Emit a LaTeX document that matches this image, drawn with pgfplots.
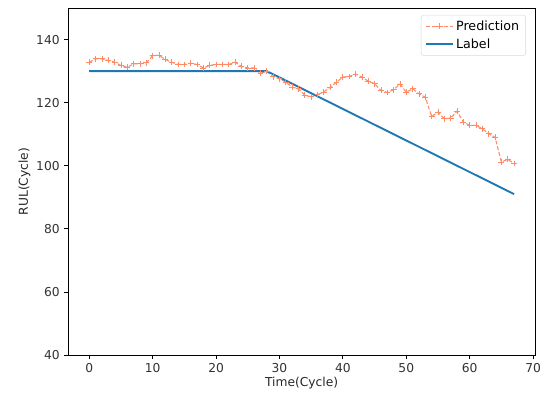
\documentclass[border=0pt]{standalone}
\usepackage{fontspec}
\setmainfont{DejaVu Sans}
\usepackage{pgfplots}
\pgfplotsset{compat=1.18}

\definecolor{predcol}{HTML}{FF8A65}
\definecolor{labelcol}{HTML}{1F77B4}

\pgfplotstableread{
t v
0 132.8
1 133.9
2 133.9
3 133.4
4 132.8
5 131.8
6 131.2
7 132.3
8 132.3
9 132.6
10 134.9
11 135.0
12 133.7
13 132.8
14 132.1
15 132.1
16 132.5
17 132.1
18 131.0
19 131.8
20 132.1
21 132.1
22 132.1
23 132.8
24 131.5
25 131.0
26 131.0
27 129.3
28 129.9
29 128.2
30 127.6
31 126.5
32 124.9
33 124.4
34 122.3
35 121.9
36 122.5
37 123.4
38 124.9
39 126.5
40 128.1
41 128.3
42 129.1
43 128.1
44 126.8
45 126.0
46 123.9
47 123.2
48 124.1
49 125.9
50 123.3
51 124.4
52 122.8
53 121.7
54 115.6
55 117.0
56 114.9
57 115.1
58 117.3
59 113.8
60 112.8
61 112.8
62 111.7
63 110.1
64 109.0
65 101.2
66 102.0
67 100.7
}\predtable

\begin{document}
\fontsize{9.2}{11}\selectfont
\begin{tikzpicture}
\begin{axis}[
  scale only axis,
  width=350.5pt, height=260.25pt,
  xmin=-3.35, xmax=70.35,
  ymin=40, ymax=150,
  xtick={0,10,...,70},
  ytick={40,60,...,140},
  tick align=outside,
  major tick length=3pt,
  tick style={black, line width=0.6pt},
  axis line style={line width=0.6pt},
  xtick pos=bottom, ytick pos=left,
  /pgf/number format/assume math mode=true,
  ticklabel style={font=\fontsize{9.2}{11}\selectfont, text=black!80},
  label style={font=\fontsize{9.2}{11}\selectfont, text=black!85},
  xlabel={Time(Cycle)},
  ylabel={RUL(Cycle)},
  xlabel style={yshift=3pt},
  ylabel style={yshift=-2pt},
  legend cell align=left,
  legend style={draw=black!15, rounded corners=2pt, font=\fontsize{9.5}{11.5}\selectfont,
    inner xsep=3pt, inner ysep=2pt, row sep=1pt, at={(0.98,0.98)}, anchor=north east},
  legend image code/.code={
    \draw[mark repeat=2, mark phase=2, #1] plot coordinates {(0cm,0cm) (0.35cm,0cm) (0.7cm,0cm)};
  },
]
\addplot[predcol, line width=0.8pt, dash pattern=on 3pt off 1.5pt,
  mark=+, mark size=2.2pt, mark options={solid, line width=0.6pt}] table[x=t, y=v] {\predtable};
\addlegendentry{Prediction}
\addplot[labelcol, line width=1.4pt, mark=none] coordinates {(0,130) (28,130) (67,91)};
\addlegendentry{Label}
\end{axis}
\pgfresetboundingbox
\path ([xshift=-51pt,yshift=-33.75pt]current axis.south west) rectangle ([xshift=5pt,yshift=6pt]current axis.north east);
\end{tikzpicture}
\end{document}
